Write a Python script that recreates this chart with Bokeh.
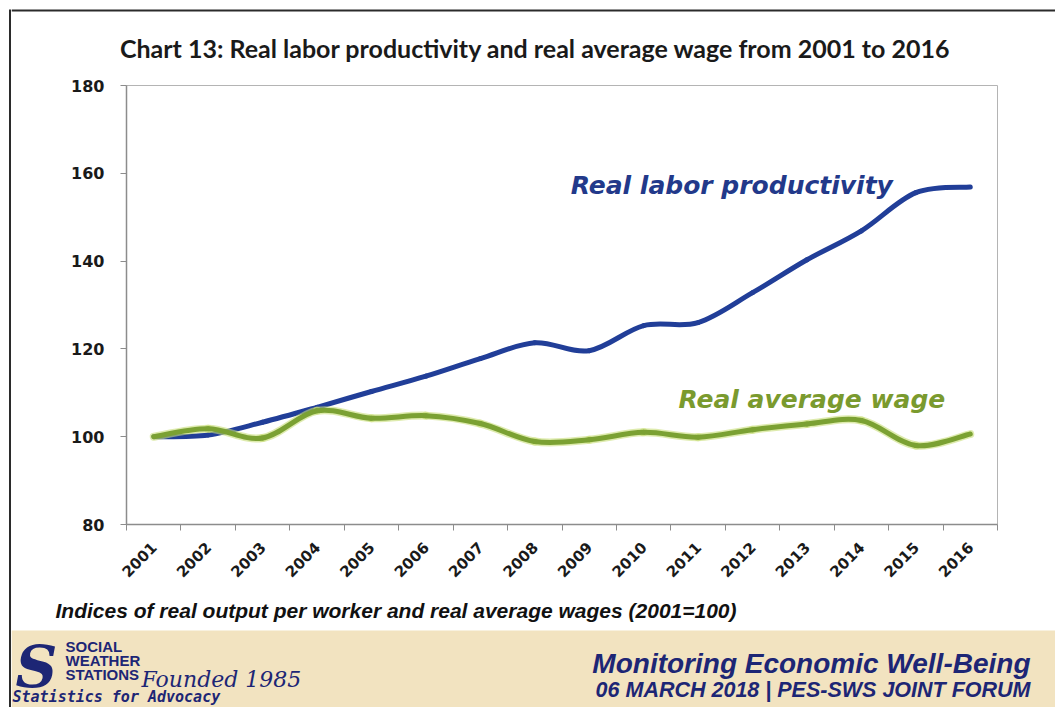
import numpy as np
from math import pi
from bokeh.plotting import figure
from bokeh.layouts import row, column
from bokeh.models import Range1d, FixedTicker, Label
from bokeh.embed import file_html
from bokeh.resources import INLINE

# ---------------- data ----------------
years = [2001, 2002, 2003, 2004, 2005, 2006, 2007, 2008,
         2009, 2010, 2011, 2012, 2013, 2014, 2015, 2016]
year_labels = [str(y) for y in years]
productivity = [100.0, 100.4, 103.3, 106.7, 110.3, 113.8, 117.8, 121.4,
                119.6, 125.3, 126.0, 132.8, 140.3, 146.9, 155.6, 156.9]
wage = [100.0, 101.8, 99.7, 105.9, 104.2, 104.8, 103.0, 98.9,
        99.3, 101.0, 99.9, 101.6, 102.9, 103.7, 98.0, 100.6]
y_ticks = [80, 100, 120, 140, 160, 180]

title_text = "Chart 13: Real labor productivity and real average wage from 2001 to 2016"
prod_label = "Real labor productivity"
wage_label = "Real average wage"
footnote = "Indices of real output per worker and real average wages (2001=100)"
footer_title = "Monitoring Economic Well-Being"
footer_sub = "06 MARCH 2018 | PES-SWS JOINT FORUM"
logo_lines = ["SOCIAL", "WEATHER", "STATIONS"]
logo_founded = "Founded 1985"
logo_tagline = "Statistics for Advocacy"

# ---------------- styles ----------------
BLUE = "#213E98"
BLUE_TXT = "#22398A"
GREEN = "#7BA133"
GREEN_HALO = "#C8DD78"
GREEN_TXT = "#7A9A2E"
NAVY = "#1D2675"
FRAME = "#2b2b2b"
TAN = "#F2E3C0"

W, H = 1055, 707
STRIP = 11
IW = W - STRIP
HEAD_H, MAIN_H = 66, 524
FOOT_H = H - HEAD_H - MAIN_H


def bare(w, h):
    f = figure(width=w, height=h, x_range=Range1d(0, w), y_range=Range1d(h, 0),
               output_backend="svg", toolbar_location=None,
               x_axis_location=None, y_axis_location=None,
               min_border=0, outline_line_color=None, frame_align=False)
    f.grid.visible = False
    return f


def bezier_parts(xs, ys):
    x = np.asarray(xs, float)
    y = np.asarray(ys, float)
    xp = np.concatenate([[x[0]], x, [x[-1]]])
    yp = np.concatenate([[y[0]], y, [y[-1]]])
    n = len(x)
    out = dict(x0=[], y0=[], x1=[], y1=[], cx0=[], cy0=[], cx1=[], cy1=[])
    for i in range(n - 1):
        p0x, p1x, p2x, p3x = xp[i], xp[i + 1], xp[i + 2], xp[i + 3]
        p0y, p1y, p2y, p3y = yp[i], yp[i + 1], yp[i + 2], yp[i + 3]
        out["x0"].append(p1x); out["y0"].append(p1y)
        out["x1"].append(p2x); out["y1"].append(p2y)
        out["cx0"].append(p1x + (p2x - p0x) / 6.0)
        out["cy0"].append(p1y + (p2y - p0y) / 6.0)
        out["cx1"].append(p2x - (p3x - p1x) / 6.0)
        out["cy1"].append(p2y - (p3y - p1y) / 6.0)
    return out


# ---------------- left frame strip ----------------
strip = bare(STRIP, H)
strip.line(x=[9.5, 9.5], y=[10, H], line_color=FRAME, line_width=2)
strip.line(x=[8.5, STRIP], y=[10, 10], line_color=FRAME, line_width=2)

# ---------------- header ----------------
head = bare(IW, HEAD_H)
head.line(x=[0, IW], y=[10, 10], line_color=FRAME, line_width=2)
head.add_layout(Label(x=524, y=47, text=title_text, text_align="center",
                      text_baseline="middle", text_font="Lato",
                      text_font_style="bold", text_font_size="25px",
                      text_color="#1a1a1a"))

# ---------------- main chart ----------------
p = figure(width=IW, height=MAIN_H,
           x_range=Range1d(years[0] - 0.5, years[-1] + 0.5),
           y_range=Range1d(y_ticks[0], y_ticks[-1]),
           output_backend="svg", toolbar_location=None, frame_align=False,
           min_border_left=115, min_border_right=58,
           min_border_top=19, min_border_bottom=66,
           outline_line_color="#b4b4b4", outline_line_width=1)
p.grid.visible = False

bp = bezier_parts(years, productivity)
p.bezier(line_color=BLUE, line_width=5, line_cap="round", **bp)
bw = bezier_parts(years, wage)
p.bezier(line_color=GREEN_HALO, line_width=8, line_alpha=0.6, line_cap="round", **bw)
p.bezier(line_color=GREEN, line_width=5, line_cap="round", **bw)

p.add_layout(Label(x=2008.66, y=157.2, text=prod_label, text_align="left",
                   text_baseline="middle", text_font="DejaVu Sans",
                   text_font_style="bold italic", text_font_size="25px",
                   text_color=BLUE_TXT))
p.add_layout(Label(x=2010.64, y=108.5, text=wage_label, text_align="left",
                   text_baseline="middle", text_font="DejaVu Sans",
                   text_font_style="bold italic", text_font_size="25px",
                   text_color=GREEN_TXT))

yax = p.yaxis[0]
yax.ticker = FixedTicker(ticks=y_ticks)
yax.axis_line_color = "#8c8c8c"
yax.axis_line_width = 1.5
yax.major_tick_line_color = "#8c8c8c"
yax.major_tick_in = 0
yax.major_tick_out = 6
yax.minor_tick_line_color = None
yax.major_label_text_font = "DejaVu Sans"
yax.major_label_text_font_style = "bold"
yax.major_label_text_font_size = "16px"
yax.major_label_text_color = "#1a1a1a"
yax.major_label_standoff = 16

xax = p.xaxis[0]
xax.ticker = FixedTicker(ticks=years,
                         minor_ticks=[y - 0.5 for y in years] + [years[-1] + 0.5])
xax.major_label_overrides = {y: s for y, s in zip(years, year_labels)}
xax.axis_line_color = "#8c8c8c"
xax.axis_line_width = 1.5
xax.major_tick_line_color = None
xax.minor_tick_line_color = "#8c8c8c"
xax.minor_tick_in = 0
xax.minor_tick_out = 6
xax.major_label_orientation = pi / 4
xax.major_label_text_font = "DejaVu Sans"
xax.major_label_text_font_style = "bold"
xax.major_label_text_font_size = "15px"
xax.major_label_text_color = "#1a1a1a"
xax.major_label_standoff = 14

# ---------------- footer ----------------
foot = bare(IW, FOOT_H)
foot.quad(left=[0], right=[IW], top=[40], bottom=[FOOT_H], fill_color=TAN, line_color=None)
foot.add_layout(Label(x=44, y=20, text=footnote, text_align="left", text_baseline="middle",
                      text_font="Liberation Sans", text_font_style="bold italic",
                      text_font_size="21px", text_color="#111111"))
foot.add_layout(Label(x=1019, y=73, text=footer_title, text_align="right", text_baseline="middle",
                      text_font="Liberation Sans", text_font_style="bold italic",
                      text_font_size="28px", text_color=NAVY))
foot.add_layout(Label(x=1019, y=99, text=footer_sub, text_align="right", text_baseline="middle",
                      text_font="Liberation Sans", text_font_style="bold italic",
                      text_font_size="21.5px", text_color=NAVY))
# logo
foot.add_layout(Label(x=4, y=76, text="S", text_align="left", text_baseline="middle",
                      text_font="DejaVu Serif", text_font_style="bold italic",
                      text_font_size="58px", text_color=NAVY))
for i, s in enumerate(logo_lines):
    foot.add_layout(Label(x=54, y=56 + 14 * i, text=s, text_align="left", text_baseline="middle",
                          text_font="Liberation Sans", text_font_style="bold",
                          text_font_size="15px", text_color=NAVY))
foot.add_layout(Label(x=130, y=89, text=logo_founded, text_align="left", text_baseline="middle",
                      text_font="DejaVu Serif", text_font_style="italic",
                      text_font_size="22px", text_color=NAVY))
foot.add_layout(Label(x=1, y=106, text=logo_tagline, text_align="left", text_baseline="middle",
                      text_font="DejaVu Sans Mono", text_font_style="bold italic",
                      text_font_size="15px", text_color=NAVY))

layout = row(strip, column(head, p, foot, spacing=0), spacing=0)

open("out.html", "w").write(file_html(layout, INLINE))
